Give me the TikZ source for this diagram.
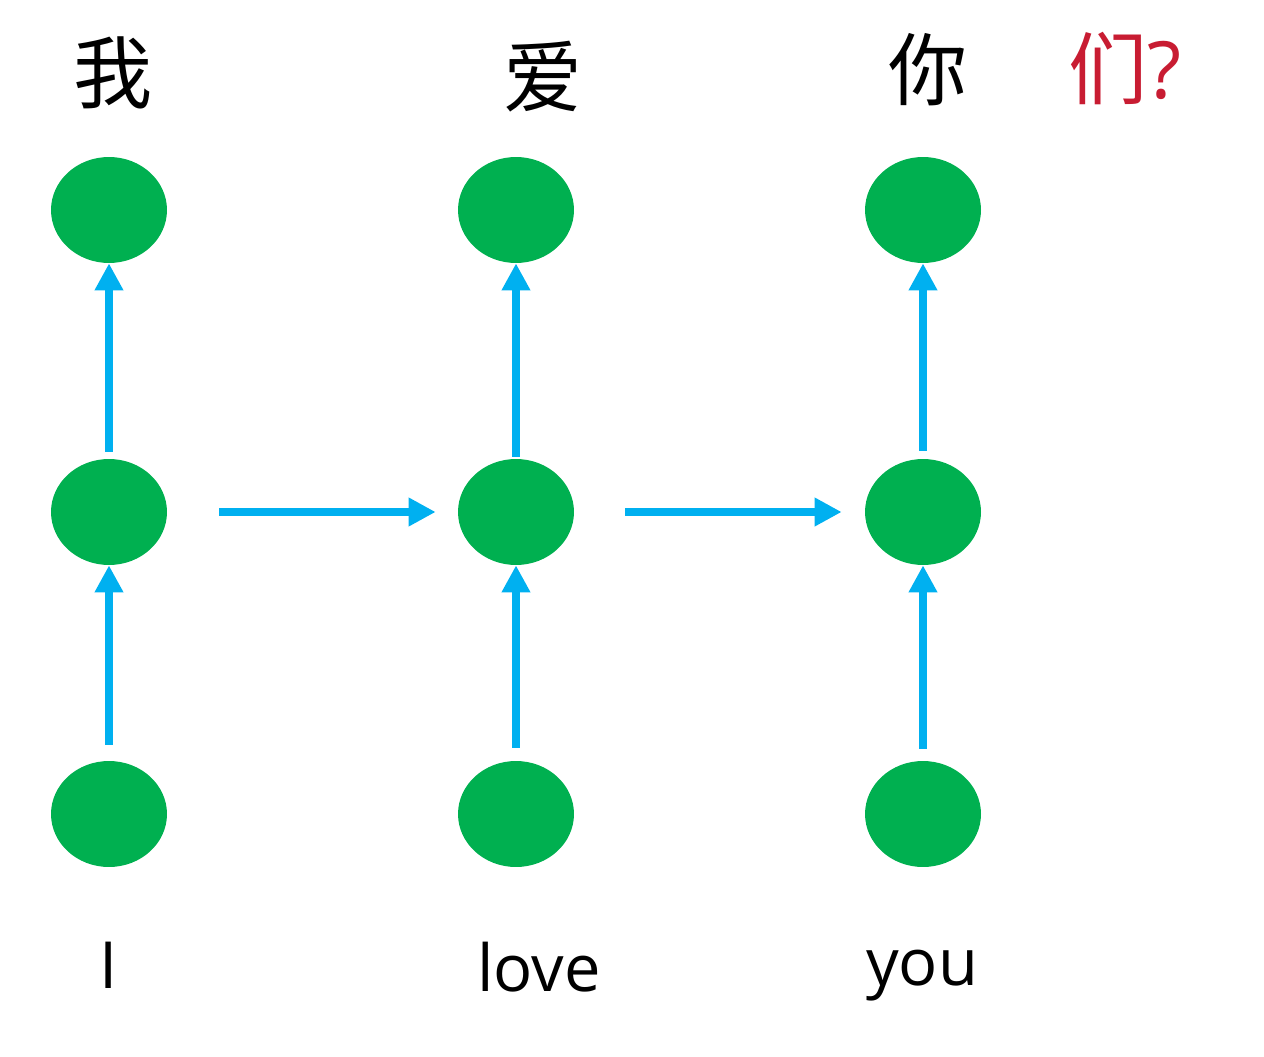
\documentclass[tikz,border=0pt]{standalone}
\usepackage{fontspec}
\setmainfont{Open Sans}
\newfontfamily\cjk{Noto Sans CJK SC}
\usetikzlibrary{arrows.meta,shapes.geometric}
\definecolor{ngreen}{RGB}{0,176,80}
\definecolor{nblue}{RGB}{0,176,240}
\definecolor{nred}{RGB}{200,28,50}
\tikzset{
  cell/.style={ellipse, fill=ngreen, draw=none, minimum width=2.32cm, minimum height=2.12cm, inner sep=0pt},
  arr/.style={draw=nblue, line width=0.16cm, -{Triangle[length=0.54cm,width=0.54cm]}},
  zh/.style={font=\cjk\fontsize{45}{50}\selectfont, inner sep=0pt, anchor=base},
  en/.style={font=\fontsize{37}{42}\selectfont, inner sep=0pt, anchor=base}
}
\begin{document}
\begin{tikzpicture}[x=0.02cm,y=-0.02cm]
\useasboundingbox (0,0) rectangle (1264,1057);
% nodes
\node[cell] (b1) at (109,814) {};
\node[cell] (b2) at (516,814) {};
\node[cell] (b3) at (923,814) {};
\node[cell] (h1) at (109,512) {};
\node[cell] (h2) at (516,512) {};
\node[cell] (h3) at (923,512) {};
\node[cell] (o1) at (109,210) {};
\node[cell] (o2) at (516,210) {};
\node[cell] (o3) at (923,210) {};
% arrows
\draw[arr, shorten <=0.32cm] (b1.north) -- (h1.south);
\draw[arr, shorten <=0.26cm] (b2.north) -- (h2.south);
\draw[arr, shorten <=0.24cm] (b3.north) -- (h3.south);
\draw[arr, shorten <=0.14cm] (h1.north) -- (o1.south);
\draw[arr, shorten <=0.04cm] (h2.north) -- (o2.south);
\draw[arr, shorten <=0.16cm] (h3.north) -- (o3.south);
\draw[arr, shorten <=1.04cm, shorten >=0.44cm] (h1.east) -- (h2.west);
\draw[arr, shorten <=1.02cm, shorten >=0.46cm] (h2.east) -- (h3.west);
% labels
\node[zh] (t1) at (113,103) {我};
\node[zh] (t2) at (543,107) {爱};
\node[zh] (t3) at (928,100) {你};
\node[zh, text=nred] (t4) at (1125,99) {们\fontspec{Open Sans}?};
\node[en] (w1) at (109,988) {I};
\node[en] (w2) at (539,991) {love};
\node[en] (w3) at (922,985) {you};
\end{tikzpicture}
\end{document}
